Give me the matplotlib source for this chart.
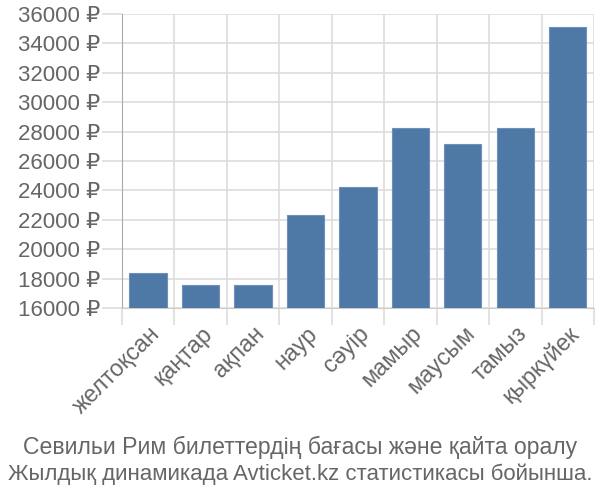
import numpy as np
import matplotlib.pyplot as plt
from matplotlib.ticker import FuncFormatter

plt.rcParams['font.family'] = ['Liberation Sans', 'DejaVu Sans']

months = ["желтоқсан", "қаңтар", "ақпан", "наур", "сәуір",
          "мамыр", "маусым", "тамыз", "қыркүйек"]
prices = [18360, 17540, 17540, 22330, 24230, 28220, 27130, 28220, 35090]
title_lines = ["Севильи Рим билеттердің бағасы және қайта оралу",
               "Жылдық динамикада Avticket.kz статистикасы бойынша."]

text_color = "#666666"
grid_color = "#dddddd"

fig = plt.figure(figsize=(6, 5), dpi=100)
ax = fig.add_axes([0.203, 0.384, 0.787, 0.588])

x = np.arange(len(months))
ax.bar(x, prices, width=0.71, bottom=0, color="#4e79a7",
       edgecolor="#6f90b8", linewidth=0.8, zorder=3)

ax.set_xlim(-0.5, len(months) - 0.5)
ax.set_ylim(16000, 36000)

# y axis
ax.set_yticks(np.arange(16000, 36001, 2000))
ax.yaxis.set_major_formatter(FuncFormatter(lambda v, p: f"{int(v)} ₽"))
ax.tick_params(axis="y", length=14.4, color=grid_color, width=1.2,
               labelsize=16, labelcolor=text_color, pad=1)
ax.grid(axis="y", color=grid_color, linewidth=1.2, zorder=0)

# x axis: labels at centers, grid at boundaries
ax.set_xticks(x)
ax.set_xticklabels(months, rotation=45, ha="right", rotation_mode="anchor")
ax.tick_params(axis="x", which="major", length=0, labelsize=16.8,
               labelcolor=text_color, pad=10)
ax.set_xticks(np.arange(-0.5, len(months)), minor=True)
ax.tick_params(axis="x", which="minor", length=12, color=grid_color, width=1.2)
ax.grid(axis="x", which="minor", color=grid_color, linewidth=1.2, zorder=0)

for side in ["top", "right"]:
    ax.spines[side].set_visible(False)
ax.spines["bottom"].set_color("#cccccc")
ax.spines["left"].set_color("#aaaaaa")
ax.spines["left"].set_bounds(16000, 36000)

fig.text(0.5, 0.106, title_lines[0], ha="center", va="center",
         fontsize=16.6, color=text_color)
fig.text(0.5, 0.052, title_lines[1], ha="center", va="center",
         fontsize=16, color=text_color)

fig.savefig("out.png")
